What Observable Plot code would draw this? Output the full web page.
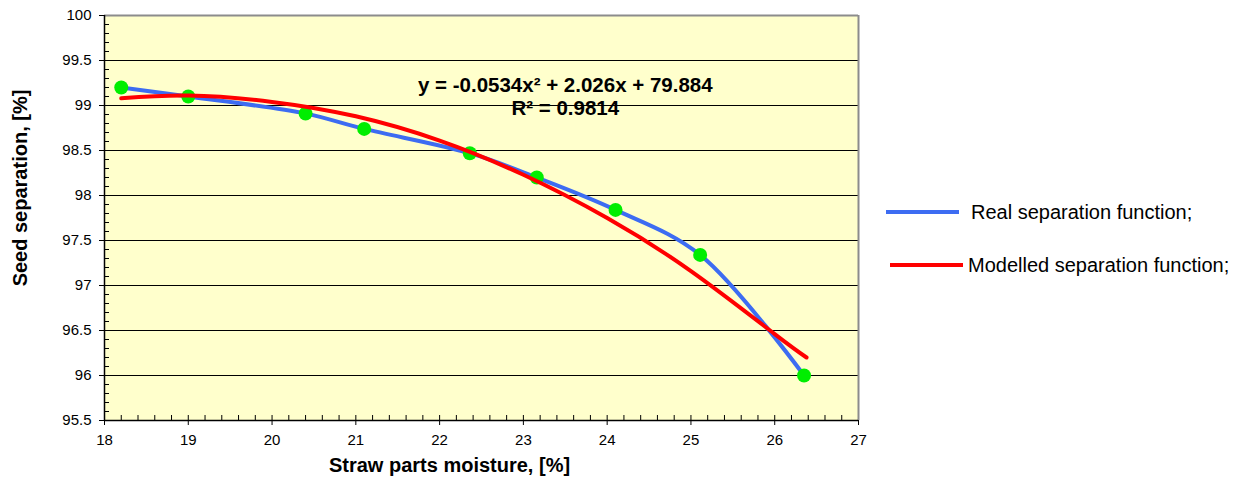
<!DOCTYPE html>
<html>
<head>
<meta charset="utf-8">
<script src="https://cdn.jsdelivr.net/npm/d3@7"></script>
<script src="https://cdn.jsdelivr.net/npm/@observablehq/plot@0.6"></script>
<style>
  html, body { margin: 0; padding: 0; background: #fff; }
  #chart svg { display: block; font-family: "Liberation Sans", Arial, sans-serif; }
</style>
</head>
<body>
<div id="chart"></div>
<script>
// ---- data ----
const moisture = [18.2, 19.0, 20.4, 21.1, 22.36, 23.16, 24.1, 25.11, 26.35];
const realSeparation = [99.2, 99.1, 98.91, 98.74, 98.47, 98.2, 97.84, 97.34, 96.0];
const modelMoisture = [18.2, 19, 20, 21, 22, 23, 24, 25, 26, 26.38];
const modelSeparation = [99.08, 99.11, 99.04, 98.88, 98.61, 98.23, 97.75, 97.16, 96.46, 96.2];
const xTicks = [18, 19, 20, 21, 22, 23, 24, 25, 26, 27];
const yTicks = [95.5, 96, 96.5, 97, 97.5, 98, 98.5, 99, 99.5, 100];
const xMinor = d3.range(18, 27.001, 0.2).map(v => +v.toFixed(1));
const yMinor = d3.range(95.5, 100.001, 0.1).map(v => +v.toFixed(1));
const seriesNames = ["Real separation function;", "Modelled separation function;"];
const seriesColors = ["#3D6CF2", "#FF0000"];
const equation = ["y = -0.0534x² + 2.026x + 79.884", "R² = 0.9814"];

const real = moisture.map((x, i) => ({x, y: realSeparation[i]}));
const model = modelMoisture.map((x, i) => ({x, y: modelSeparation[i]}));

const W = 1233, H = 482;
const mL = 104, mR = 375, mT = 15, mB = 62;
const fw = W - mL - mR, fh = H - mT - mB;

const chart = Plot.plot({
  width: W, height: H,
  marginLeft: mL, marginRight: mR, marginTop: mT, marginBottom: mB,
  style: {fontFamily: "Liberation Sans, Arial, sans-serif", background: "#fff"},
  x: {domain: [18, 27]},
  y: {domain: [95.5, 100]},
  marks: [
    Plot.frame({fill: "#FFFFCC", stroke: null}),
    Plot.ruleY(yTicks.filter(v => v > 95.5 && v < 100), {stroke: "#000", strokeWidth: 1}),
    // minor ticks (inside)
    Plot.tickY(yMinor, {y: d => d, insetRight: fw - 5, stroke: "#000", strokeWidth: 1}),
    Plot.tickX(xMinor, {x: d => d, insetTop: fh - 5, stroke: "#000", strokeWidth: 1}),
    // frame edges
    Plot.ruleY([100], {stroke: "#8C8C8C", strokeWidth: 2}),
    Plot.ruleX([27], {stroke: "#8C8C8C", strokeWidth: 2}),
    Plot.ruleX([18], {stroke: "#000", strokeWidth: 1.5}),
    Plot.ruleY([95.5], {stroke: "#000", strokeWidth: 1.5}),
    Plot.axisY(yTicks, {tickSize: 5, tickPadding: 8, fontSize: 15, fill: "#000", stroke: "#000", label: null, tickFormat: d => String(d)}),
    Plot.axisX(xTicks, {tickSize: 5, tickPadding: 9, fontSize: 15, fill: "#000", stroke: "#000", label: null, tickFormat: d => String(d)}),
    // series
    Plot.line(real, {x: "x", y: "y", stroke: seriesColors[0], strokeWidth: 4, curve: "catmull-rom"}),
    Plot.dot(real, {x: "x", y: "y", r: 7, fill: "#00EE00", stroke: null}),
    Plot.line(model, {x: "x", y: "y", stroke: seriesColors[1], strokeWidth: 4, curve: "natural"}),
    // equation
    Plot.text([equation[0]], {x: 23.5, y: 99.228, text: d => d, fontSize: 20.5, fontWeight: "bold", fill: "#000"}),
    Plot.text([equation[1]], {x: 23.5, y: 98.972, text: d => d, fontSize: 20.5, fontWeight: "bold", fill: "#000"}),
    // axis titles
    Plot.text(["Seed separation, [%]"], {frameAnchor: "left", textAnchor: "middle", dx: -84, dy: -30, rotate: -90, text: d => d, fontSize: 20, fontWeight: "bold", fill: "#000"}),
    Plot.text(["Straw parts moisture, [%]"], {frameAnchor: "bottom", dx: -32, dy: 51, text: d => d, fontSize: 20, fontWeight: "bold", fill: "#000"})
  ]
});

// legend (outside the plot area, right)
const svg = d3.select(chart);
const legendRows = [
  {x1: 886, x2: 959, y: 212, tx: 971},
  {x1: 890, x2: 963, y: 265, tx: 968}
];
legendRows.forEach((r, i) => {
  svg.append("line").attr("x1", r.x1).attr("x2", r.x2).attr("y1", r.y).attr("y2", r.y)
    .attr("stroke", seriesColors[i]).attr("stroke-width", 4);
  svg.append("text").attr("x", r.tx).attr("y", r.y).attr("dy", "0.35em")
    .attr("text-anchor", "start")
    .attr("font-size", 20).attr("fill", "#000")
    .attr("font-family", "Liberation Sans, Arial, sans-serif")
    .text(seriesNames[i]);
});

document.getElementById("chart").appendChild(chart);
</script>
</body>
</html>
